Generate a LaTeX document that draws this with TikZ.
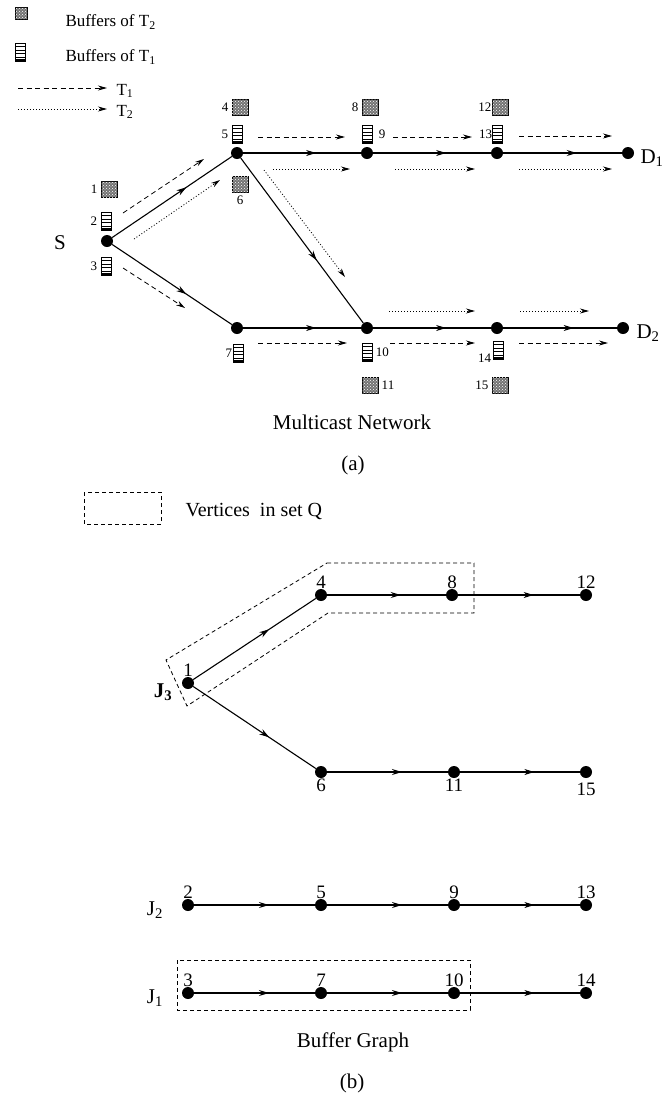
\documentclass[tikz,border=0pt]{standalone}
\usepackage{fontspec}
\setmainfont{Liberation Serif}
\usetikzlibrary{arrows.meta}
\usetikzlibrary{calc}
\usetikzlibrary{patterns}
\usetikzlibrary{decorations.markings}

\tikzset{
  vertex/.style={circle,fill,inner sep=0pt,minimum size=12pt},
  midarrow/.style={decoration={markings,
      mark=at position 0.62 with {\arrow{Stealth[length=10pt,width=6pt]}}},
    postaction={decorate}},
  link/.style={line width=1.1pt,midarrow},
  flowone/.style={line width=0.8pt,dash pattern=on 5pt off 3.5pt,
    -{Stealth[length=9pt,width=5pt]}},
  flowtwo/.style={line width=0.8pt,dash pattern=on 1pt off 2pt,
    -{Stealth[length=9pt,width=5pt]}},
  hatchbuf/.style={draw,fill=black!55,postaction={pattern=crosshatch dots,pattern color=white},
    minimum size=16pt,inner sep=0pt},
  stripebuf/.style={draw,line width=0.7pt,minimum width=10pt,minimum height=18pt,
    inner sep=0pt,path picture={
      \foreach \k in {1,...,4}
        \draw[line width=0.7pt]
          ($(path picture bounding box.south west)!\k/5!(path picture bounding box.north west)$)
          -- ($(path picture bounding box.south east)!\k/5!(path picture bounding box.north east)$);
      \fill ($(path picture bounding box.south west)$) rectangle
        ($(path picture bounding box.south east)!0.12!(path picture bounding box.north east)$);}},
  num/.style={font=\fontsize{13}{15}\selectfont},
  bnum/.style={font=\fontsize{19}{22}\selectfont},
  legend/.style={font=\fontsize{17}{20}\selectfont},
  bigtext/.style={font=\fontsize{21}{25}\selectfont},
  qset/.style={line width=0.8pt,dash pattern=on 4pt off 3pt},
}

\begin{document}
\begin{tikzpicture}[x=1pt,y=-1pt]
  \useasboundingbox (0,0) rectangle (671,1096);

  \node[hatchbuf,minimum size=12pt] (keyhatch) at (21,13) {};
  \node[legend,anchor=west] (keyhatchtext) at (62,22) {Buffers of T\textsubscript{2}};
  \node[stripebuf] (keystripe) at (20,52) {};
  \node[legend,anchor=west] (keystripetext) at (62,57) {Buffers of T\textsubscript{1}};
  \coordinate (keyoneA) at (18,88);
  \coordinate (keyoneB) at (107,88);
  \draw[flowone] (keyoneA) -- (keyoneB);
  \node[legend,anchor=west] (keyone) at (113,91) {T\textsubscript{1}};
  \coordinate (keytwoA) at (18,109);
  \coordinate (keytwoB) at (107,109);
  \draw[flowtwo] (keytwoA) -- (keytwoB);
  \node[legend,anchor=west] (keytwo) at (113,112) {T\textsubscript{2}};

  \node[vertex] (s) at (107,241) {};
  \node[vertex] (u1) at (237,153) {};
  \node[vertex] (u2) at (367,153) {};
  \node[vertex] (u3) at (497,153) {};
  \node[vertex] (d1) at (628,153) {};
  \node[vertex] (v1) at (237,328) {};
  \node[vertex] (v2) at (367,328) {};
  \node[vertex] (v3) at (497,328) {};
  \node[vertex] (d2) at (623,328) {};
  \node[bigtext] (slabel) at (60,243) {S};
  \node[bigtext,anchor=west] (d1label) at (637,158) {D\textsubscript{1}};
  \node[bigtext,anchor=west] (d2label) at (633,333) {D\textsubscript{2}};

  \foreach \a/\b in {s/u1,s/v1,u1/u2,u2/u3,u3/d1,u1/v2,v1/v2,v2/v3,v3/d2}
    \draw[link] (\a) -- (\b);

  \draw[flowone] ([shift={(16pt,28pt)}]s.center) -- ([shift={(-33pt,-6pt)}]u1.center);
  \draw[flowtwo] ([shift={(27pt,2pt)}]s.center) -- ([shift={(-17pt,-27pt)}]u1.center);
  \draw[flowone] ([shift={(16pt,-27pt)}]s.center) -- ([shift={(-52pt,20pt)}]v1.center);
  \draw[flowtwo] ([shift={(27pt,-17pt)}]u1.center) -- ([shift={(-22pt,51pt)}]v2.center);

  \draw[flowone] ([shift={(21pt,16pt)}]u1.center) -- ([shift={(-22pt,16pt)}]u2.center);
  \draw[flowone] ([shift={(26pt,16pt)}]u2.center) -- ([shift={(-25pt,16pt)}]u3.center);
  \draw[flowone] ([shift={(22pt,17pt)}]u3.center) -- ([shift={(-16pt,17pt)}]d1.center);
  \draw[flowtwo] ([shift={(36pt,-16pt)}]u1.center) -- ([shift={(-17pt,-16pt)}]u2.center);
  \draw[flowtwo] ([shift={(28pt,-16pt)}]u2.center) -- ([shift={(-22pt,-16pt)}]u3.center);
  \draw[flowtwo] ([shift={(22pt,-16pt)}]u3.center) -- ([shift={(-16pt,-16pt)}]d1.center);
  \draw[flowtwo] ([shift={(22pt,17pt)}]v2.center) -- ([shift={(-22pt,17pt)}]v3.center);
  \draw[flowtwo] ([shift={(23pt,17pt)}]v3.center) -- ([shift={(-34pt,17pt)}]d2.center);
  \draw[flowone] ([shift={(21pt,-15pt)}]v1.center) -- ([shift={(-20pt,-15pt)}]v2.center);
  \draw[flowone] ([shift={(23pt,-15pt)}]v2.center) -- ([shift={(-22pt,-15pt)}]v3.center);
  \draw[flowone] ([shift={(22pt,-15pt)}]v3.center) -- ([shift={(-15pt,-15pt)}]d2.center);

  \begin{scope}[every label/.append style={num}]
    \node[hatchbuf,label=left:1] (b1) at (109,189) {};
    \node[stripebuf,label=left:2] (b2) at (106,221) {};
    \node[stripebuf,label=left:3] (b3) at (106,266) {};
    \node[hatchbuf,label=left:4] (b4) at (240,107) {};
    \node[stripebuf,label=left:5] (b5) at (237,134) {};
    \node[hatchbuf,label=below:6] (b6) at (240,184) {};
    \node[stripebuf,label={[label distance=-3pt]left:7}] (b7) at (238,353) {};
    \node[hatchbuf,label=left:8] (b8) at (370,107) {};
    \node[stripebuf,label={[label distance=3pt]right:9}] (b9) at (367,134) {};
    \node[stripebuf,label=right:10] (b10) at (367,352) {};
    \node[hatchbuf,label=right:11] (b11) at (370,385) {};
    \node[hatchbuf,label={[label distance=-3pt]left:12}] (b12) at (500,107) {};
    \node[stripebuf,label={[label distance=-4pt]left:13}] (b13) at (497,134) {};
    \node[stripebuf,label={[label distance=-2pt,yshift=-8pt]left:14}] (b14) at (498,350) {};
    \node[hatchbuf,label=left:15] (b15) at (500,385) {};
  \end{scope}

  \node[bigtext] (netcap) at (352,422) {Multicast Network};
  \node[bigtext] (parta) at (353,465) {(a)};

  \coordinate (keyqA) at (84,492);
  \coordinate (keyqB) at (161,524);
  \draw[qset] (keyqA) rectangle (keyqB);
  \node[font=\fontsize{20}{24}\selectfont,anchor=west] (keyq) at (182,511) {Vertices\ \ in set Q};

  \begin{scope}[every label/.append style={bnum,label distance=-3pt}]
    \node[vertex,label=above:1] (j1) at (188,683) {};
    \node[vertex,label=above:4] (j4) at (321,595) {};
    \node[vertex,label=above:8] (j8) at (452,595) {};
    \node[vertex,label=above:12] (j12) at (586,595) {};
    \node[vertex,label=below:6] (j6) at (321,772) {};
    \node[vertex,label=below:11] (j11) at (454,772) {};
    \node[vertex,label={[yshift=-4pt]below:15}] (j15) at (586,772) {};
    \node[vertex,label=above:2] (k2) at (188,905) {};
    \node[vertex,label=above:5] (k5) at (321,905) {};
    \node[vertex,label=above:9] (k9) at (454,905) {};
    \node[vertex,label=above:13] (k13) at (586,905) {};
    \node[vertex,label=above:3] (m3) at (188,993) {};
    \node[vertex,label=above:7] (m7) at (321,993) {};
    \node[vertex,label=above:10] (m10) at (454,993) {};
    \node[vertex,label=above:14] (m14) at (586,993) {};
  \end{scope}

  \node[bigtext,font=\fontsize{21}{25}\selectfont\bfseries] (jthree) at (163,692) {J\textsubscript{3}};
  \node[bigtext] (jtwo) at (155,910) {J\textsubscript{2}};
  \node[bigtext] (jone) at (155,998) {J\textsubscript{1}};

  \foreach \a/\b in {j1/j4,j4/j8,j8/j12,j1/j6,j6/j11,j11/j15,
                     k2/k5,k5/k9,k9/k13,m3/m7,m7/m10,m10/m14}
    \draw[link] (\a) -- (\b);

  \draw[qset] (327,563) -- (474,563) -- (474,613) -- (328,613)
    -- (187,706) -- (166,660) -- cycle;
  \draw[qset] (177,960) rectangle (470,1010);

  \node[bigtext] (bufcap) at (353,1042) {Buffer Graph};
  \node[bigtext] (partb) at (352,1083) {(b)};
\end{tikzpicture}
\end{document}
